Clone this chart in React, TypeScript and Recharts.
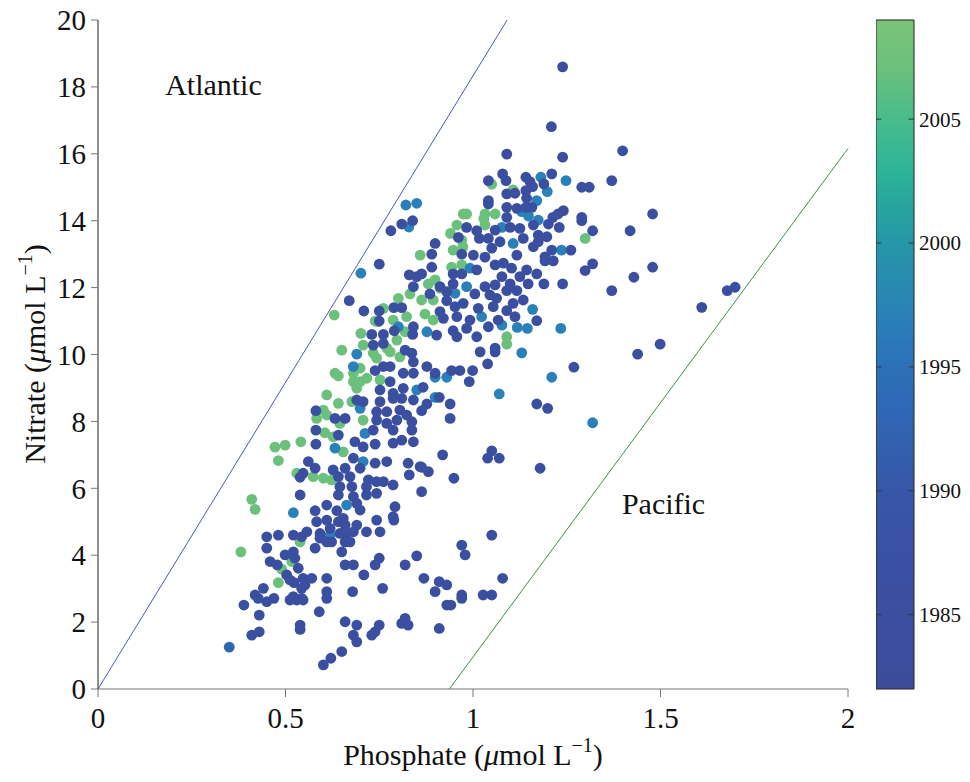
import { ScatterChart, ComposedChart, Scatter, XAxis, YAxis, ReferenceLine, ReferenceDot, ReferenceArea, Label } from 'recharts';

const FONT = '"Liberation Serif", "Times New Roman", serif';

// phosphate / nitrate pairs, grouped by sampling period (colour = year)
const DARK_1986: [number, number][] = [
  [0.839, 14.0], [0.81, 13.9], [0.781, 13.7], [0.75, 12.7], [0.67, 11.61], [0.709, 11.3], [0.75, 11.3], [0.789, 11.4], [0.81, 11.4],
  [0.83, 12.38], [0.85, 12.33], [0.841, 12.03], [0.75, 11.0], [0.73, 10.6], [0.761, 10.6], [0.79, 10.71], [0.841, 10.83], [0.839, 10.6],
  [1.239, 18.6], [1.209, 16.81], [1.09, 15.99], [1.239, 15.9], [1.399, 16.09], [1.079, 15.4], [1.088, 15.2], [1.041, 15.2], [1.141, 15.3],
  [1.152, 15.17], [1.21, 15.4], [1.189, 15.1], [1.29, 15.0], [1.31, 15.0], [1.37, 15.2], [1.09, 14.8], [1.112, 14.82], [1.141, 14.9],
  [1.159, 15.02], [1.041, 14.6], [1.041, 14.5], [1.143, 14.67], [1.09, 14.4], [1.117, 14.37], [1.141, 14.4], [1.157, 14.4], [1.241, 14.3],
  [1.227, 14.2], [1.213, 14.1], [1.09, 14.1], [1.29, 14.1], [1.29, 14.0], [0.983, 13.8], [1.01, 13.7], [1.059, 13.72], [1.099, 13.8],
  [1.125, 13.77], [1.161, 13.87], [1.201, 13.9], [1.23, 13.8], [1.319, 13.7], [0.961, 13.5], [1.041, 13.47], [1.017, 13.47], [1.134, 13.47],
  [1.174, 13.57], [1.197, 13.52], [1.174, 13.37], [1.21, 13.12], [1.261, 13.12], [1.161, 13.22], [1.072, 13.37], [1.05, 13.18], [0.899, 13.32],
  [0.89, 13.0], [0.97, 13.0], [1.001, 12.97], [1.032, 12.91], [1.081, 12.73], [1.117, 12.97], [1.192, 12.92], [1.192, 12.8], [1.214, 12.8],
  [0.89, 12.61], [1.01, 12.53], [1.059, 12.68], [1.103, 12.58], [1.143, 12.53], [1.299, 12.51], [1.319, 12.71], [0.863, 12.41], [0.947, 12.41],
  [0.97, 12.41], [1.17, 12.41], [1.077, 12.33], [1.125, 12.33], [0.912, 12.03], [0.947, 12.11], [1.032, 12.03], [1.059, 12.08], [1.099, 12.11],
  [1.147, 12.11], [1.189, 12.11], [1.239, 12.11], [1.37, 11.91], [0.885, 11.81], [0.93, 11.88], [1.005, 11.81], [1.045, 11.78], [1.09, 11.91],
  [1.117, 11.91], [0.93, 11.61], [0.974, 11.53], [1.063, 11.68], [1.107, 11.53], [1.134, 11.63], [0.952, 11.43], [1.014, 11.38], [1.054, 11.43],
  [0.912, 11.28], [1.09, 11.31], [0.921, 11.08], [0.957, 11.13], [0.992, 11.03], [1.067, 11.03], [1.112, 11.13], [1.17, 11.01], [1.041, 10.83],
  [0.947, 10.71], [0.983, 10.78], [0.903, 10.58], [0.957, 10.53], [1.01, 10.53],
  [0.734, 10.28], [0.761, 10.33], [0.819, 10.13], [0.837, 10.04], [0.739, 9.52], [0.761, 9.64], [0.779, 9.64], [0.841, 9.78], [0.779, 9.19],
  [0.814, 9.44], [0.841, 9.44], [0.752, 8.94], [0.787, 8.84], [0.814, 8.99], [0.69, 8.64], [0.707, 8.59], [0.752, 8.59], [0.787, 8.69],
  [0.81, 8.69], [0.841, 8.64], [0.581, 8.32], [0.743, 8.29], [0.77, 8.29], [0.805, 8.34], [0.632, 8.09], [0.659, 8.09], [0.743, 8.04],
  [0.77, 7.94], [0.797, 8.04], [0.823, 8.19], [0.837, 7.99], [0.581, 7.74], [0.641, 7.59], [0.734, 7.74], [0.787, 7.74], [0.837, 7.74],
  [0.581, 7.32], [0.685, 7.39], [0.707, 7.24], [0.739, 7.32], [0.787, 7.35], [0.81, 7.44], [0.841, 7.39], [0.561, 6.8], [0.681, 6.9],
  [0.739, 6.75], [0.77, 6.8], [0.827, 6.75], [0.859, 6.65], [0.579, 6.6], [0.627, 6.55], [0.659, 6.6], [0.699, 6.6], [0.547, 6.45],
  [0.539, 6.33], [0.641, 6.35], [0.672, 6.35], [0.721, 6.25], [0.743, 6.2], [0.83, 6.4], [0.645, 6.05], [0.677, 6.05], [0.716, 6.05],
  [0.761, 6.2], [0.787, 6.1], [0.539, 5.8], [0.641, 5.8], [0.681, 5.75], [0.716, 5.8], [0.743, 5.85], [0.579, 5.33], [0.61, 5.5],
  [0.637, 5.33], [0.69, 5.55], [0.699, 5.35], [0.792, 5.45], [0.583, 5.0], [0.61, 5.05], [0.654, 5.1], [0.69, 4.9], [0.743, 5.05],
  [0.787, 5.15], [0.45, 4.55], [0.481, 4.6], [0.521, 4.6], [0.557, 4.7], [0.592, 4.65], [0.663, 4.65], [0.716, 4.7], [0.752, 4.7],
  [1.059, 10.19], [1.059, 10.08], [1.019, 10.08], [1.269, 9.62], [1.039, 9.72], [0.999, 9.52], [0.99, 9.19], [0.965, 9.52], [0.943, 9.52],
  [0.899, 9.44], [0.877, 9.64], [1.17, 8.52], [1.199, 8.39], [0.939, 8.52], [0.939, 8.09], [0.91, 8.72], [0.877, 8.52], [0.867, 9.02],
  [0.863, 8.32], [0.919, 7.0], [1.05, 7.12], [1.039, 6.9], [1.07, 6.9], [1.179, 6.6], [0.863, 6.63], [0.881, 6.5], [0.949, 6.3],
  [0.863, 5.9], [1.05, 4.6],
  [0.389, 2.51], [0.41, 1.61], [0.43, 1.71], [0.43, 2.21], [0.419, 2.81], [0.441, 3.01], [0.45, 2.61], [0.469, 2.71], [0.427, 2.71],
  [0.45, 4.21], [0.459, 3.81], [0.478, 3.71], [0.499, 4.01], [0.521, 4.1], [0.525, 3.91], [0.534, 3.61], [0.503, 3.41], [0.512, 3.26],
  [0.523, 3.18], [0.543, 4.55], [0.592, 4.51], [0.619, 4.8], [0.61, 4.4], [0.623, 4.4], [0.579, 4.21], [0.547, 3.31], [0.57, 3.31],
  [0.543, 3.01], [0.552, 3.11], [0.512, 2.66], [0.53, 2.66], [0.547, 2.66], [0.521, 2.76], [0.543, 2.71], [0.59, 2.31], [0.61, 3.31],
  [0.61, 2.91], [0.61, 2.71], [0.539, 1.91], [0.539, 1.78], [0.641, 5.0], [0.659, 4.9], [0.645, 4.65], [0.659, 4.4], [0.672, 4.4],
  [0.65, 4.1], [0.681, 4.7], [0.659, 3.71], [0.681, 3.71], [0.709, 3.41], [0.739, 3.71], [0.75, 3.91], [0.679, 2.91], [0.759, 3.01],
  [0.659, 2.01], [0.69, 1.91], [0.681, 1.61], [0.69, 1.41], [0.73, 1.61], [0.739, 1.71], [0.75, 1.91], [0.65, 1.12], [0.621, 0.92],
  [0.601, 0.72], [0.789, 5.05], [0.819, 3.71], [0.85, 3.98], [0.81, 1.96], [0.827, 1.91], [0.819, 2.11],
  [0.97, 4.3], [0.979, 4.01], [0.869, 3.31], [0.91, 3.21], [0.93, 3.11], [0.899, 2.91], [1.079, 3.31], [0.97, 2.81], [0.97, 2.71],
  [1.027, 2.81], [1.05, 2.81], [0.93, 2.51], [0.941, 2.51], [0.91, 1.81],
  [1.479, 14.2], [1.419, 13.7], [1.479, 12.61], [1.429, 12.31], [1.678, 11.91], [1.699, 12.01], [1.61, 11.41], [1.439, 10.01], [1.499, 10.31],
];

const MID_1993: [number, number][] = [[0.35, 1.25]];

const MID_1997: [number, number][] = [
  [0.821, 14.47], [0.85, 14.52], [0.829, 13.81], [0.701, 12.43], [0.801, 10.83],
  [1.181, 15.3], [1.198, 14.87], [1.248, 15.2], [1.17, 14.6], [1.13, 14.27], [1.148, 14.14], [1.174, 14.02], [1.077, 13.8], [1.107, 13.32],
  [1.236, 13.12], [0.992, 12.58], [0.983, 12.03], [0.952, 11.83], [1.159, 11.35], [1.023, 11.13], [1.077, 10.88], [1.118, 10.81], [1.145, 10.78],
  [1.234, 10.78], [0.877, 10.68],
  [0.69, 10.01], [0.681, 9.64], [0.85, 8.94], [0.699, 8.39], [0.712, 7.64], [0.632, 7.2], [0.707, 6.8], [0.521, 5.27], [0.663, 5.5], [0.619, 4.6],
  [1.13, 10.05], [1.21, 9.32], [0.93, 9.32], [0.899, 9.32], [1.07, 8.82], [1.319, 7.96], [0.899, 8.72],
];

const GREEN_2007: [number, number][] = [
  [0.63, 11.18], [0.761, 11.38], [0.801, 11.68], [0.832, 11.81], [0.739, 11.0], [0.787, 11.03], [0.823, 11.13], [0.701, 10.63], [0.859, 12.97],
  [1.05, 15.09], [1.107, 14.92], [1.059, 14.2], [1.032, 14.2], [1.029, 14.06], [0.974, 14.2], [0.983, 14.2], [0.957, 13.87], [1.299, 13.47],
  [0.94, 13.62], [0.947, 13.12], [0.973, 13.22], [0.943, 12.61], [0.97, 12.68], [0.881, 12.11], [0.863, 11.63], [0.894, 11.63], [0.872, 11.21],
  [0.894, 11.03], [0.97, 13.42], [0.899, 12.23], [0.912, 11.98], [1.09, 10.53], [1.032, 13.87],
  [0.65, 10.13], [0.707, 10.28], [0.779, 10.08], [0.632, 9.44], [0.641, 9.36], [0.681, 9.44], [0.699, 9.59], [0.743, 9.89], [0.805, 9.93],
  [0.681, 9.19], [0.699, 9.19], [0.752, 9.24], [0.69, 8.99], [0.61, 8.79], [0.641, 8.54], [0.677, 8.59], [0.601, 8.34], [0.61, 8.19],
  [0.583, 8.09], [0.645, 7.94], [0.707, 8.04], [0.605, 7.66], [0.627, 7.54], [0.541, 7.39], [0.654, 7.09], [0.472, 7.23], [0.499, 7.29],
  [0.481, 6.83], [0.53, 6.45], [0.574, 6.35], [0.601, 6.3], [0.623, 6.25], [0.41, 5.67], [0.419, 5.37],
  [0.734, 10.04], [0.77, 10.19], [0.797, 10.43], [0.819, 10.68], [0.747, 10.98], [0.717, 9.29],
  [1.09, 10.31], [0.381, 4.1], [0.481, 3.18], [0.49, 3.58], [0.517, 3.81], [0.539, 4.4],
];

const xTicks = [0, 0.5, 1, 1.5, 2];
const yTicks = [0, 2, 4, 6, 8, 10, 12, 14, 16, 18, 20];
const yearTicks = [1985, 1990, 1995, 2000, 2005];
const yearDomain: [number, number] = [1982, 2009];

// boundary lines
const atlanticLine = [{ x: 0, y: 0 }, { x: 1.091, y: 20 }];
const pacificLine = [{ x: 0.937, y: 0 }, { x: 2, y: 16.16 }];

const annotations = [
  { text: 'Atlantic', p: 0.179, n: 18.06 },
  { text: 'Pacific', p: 1.397, n: 5.56 },
];

const colorStops: [number, string][] = [
  [1982, '#3e4b9c'], [1986, '#3b4fa1'], [1990, '#3756a7'], [1993, '#3066b4'], [1995, '#2c70b8'], [1997, '#2a80b9'],
  [2000, '#2596a7'], [2002, '#28aa9c'], [2003, '#2eb596'], [2005, '#48bc8d'], [2007, '#6bc07b'], [2009, '#7ac47a'],
];

function yearColor(year: number) {
  const hit = colorStops.find(s => s[0] === year);
  return hit ? hit[1] : colorStops[0][1];
}

const groups = [
  { year: 2007, pts: GREEN_2007 },
  { year: 1997, pts: MID_1997 },
  { year: 1993, pts: MID_1993 },
  { year: 1986, pts: DARK_1986 },
];

const tickStyle = { fill: '#111', fontSize: 29, fontFamily: FONT };

function XLabel(props: any) {
  const vb = props.viewBox;
  const cx = vb.x + vb.width / 2;
  const y = vb.y + 76;
  return (
    <text x={cx} y={y} textAnchor="middle" fontFamily={FONT} fontSize={30} fill="#111">
      Phosphate (<tspan fontStyle="italic">μ</tspan>mol L<tspan dy={-13} fontSize={20}>−1</tspan><tspan dy={13}>)</tspan>
    </text>
  );
}

function YLabel() {
  const cy = 354;
  const x = 45;
  return (
    <text x={x} y={cy} textAnchor="middle" transform={`rotate(-90, ${x}, ${cy})`} fontFamily={FONT} fontSize={30} fill="#111">
      Nitrate (<tspan fontStyle="italic">μ</tspan>mol L<tspan dy={-13} fontSize={20}>−1</tspan><tspan dy={13}>)</tspan>
    </text>
  );
}

// one invisible anchor per tick so the colour-bar chart has a series to lay out
const colorbarAnchors = yearTicks.map(y => ({ x: 0.5, y }));

export default function App() {
  return (
    <div style={{ position: 'absolute', left: 0, top: 0, width: 970, height: 782, background: '#fff' }}>
      <svg width={0} height={0} style={{ position: 'absolute' }}>
        <defs>
          <linearGradient id="cbGrad" x1="0" y1="1" x2="0" y2="0">
            {colorStops.map(([yr, c]) => (
              <stop key={yr} offset={(yr - yearDomain[0]) / (yearDomain[1] - yearDomain[0])} stopColor={c} />
            ))}
          </linearGradient>
        </defs>
      </svg>

      <div style={{ position: 'absolute', left: 0, top: 0 }}>
        <ScatterChart width={970} height={782} margin={{ top: 20, right: 122, bottom: 33, left: 38 }}>
          <XAxis
            type="number"
            dataKey="p"
            domain={[0, 2]}
            ticks={xTicks}
            tickFormatter={(v: number) => String(v)}
            height={60}
            tickSize={8}
            tickMargin={10}
            axisLine={{ stroke: '#777' }}
            tickLine={{ stroke: '#777' }}
            tick={tickStyle}
          >
            <Label content={XLabel} />
          </XAxis>
          <YAxis
            type="number"
            dataKey="n"
            domain={[0, 20]}
            ticks={yTicks}
            width={60}
            tickSize={7}
            tickMargin={5}
            axisLine={{ stroke: '#222' }}
            tickLine={{ stroke: '#777' }}
            tick={tickStyle}
          >
            <Label content={YLabel} />
          </YAxis>
          <ReferenceLine segment={atlanticLine} stroke="#4a5bb0" strokeWidth={1} />
          <ReferenceLine segment={pacificLine} stroke="#3a9148" strokeWidth={1} />
          {groups.map(g => {
            const color = yearColor(g.year);
            return (
              <Scatter
                key={g.year}
                name={String(g.year)}
                data={g.pts.map(([p, n]) => ({ p, n }))}
                fill={color}
                isAnimationActive={false}
                shape={(s: any) => <circle cx={s.cx} cy={s.cy} r={5.4} fill={color} />}
              />
            );
          })}
          {annotations.map(a => (
            <ReferenceDot
              key={a.text}
              x={a.p}
              y={a.n}
              r={0}
              shape={(s: any) => (
                <text x={s.cx} y={s.cy} dy="0.35em" fontFamily={FONT} fontSize={30} fill="#111">
                  {a.text}
                </text>
              )}
            />
          ))}
        </ScatterChart>
      </div>

      <div style={{ position: 'absolute', left: 876, top: 0 }}>
        <ComposedChart width={94} height={782} margin={{ top: 20, right: 0, bottom: 93, left: 0 }} data={colorbarAnchors}>
          <XAxis type="number" dataKey="x" domain={[0, 1]} hide />
          <YAxis
            type="number"
            dataKey="y"
            orientation="right"
            domain={yearDomain}
            ticks={yearTicks}
            width={56}
            axisLine={false}
            tickLine={false}
            tickSize={0}
            tickMargin={5}
            tick={{ fill: '#111', fontSize: 21, fontFamily: FONT }}
          />
          <Scatter dataKey="y" isAnimationActive={false} shape={() => <g />} />
          <ReferenceArea x1={0} x2={1} y1={yearDomain[0]} y2={yearDomain[1]} fill="url(#cbGrad)" fillOpacity={1} stroke="#222" strokeWidth={1} />
          {yearTicks.map(y => (
            <ReferenceLine key={'l' + y} segment={[{ x: 0, y }, { x: 0.14, y }]} stroke="#333" />
          ))}
          {yearTicks.map(y => (
            <ReferenceLine key={'r' + y} segment={[{ x: 0.86, y }, { x: 1, y }]} stroke="#333" />
          ))}
        </ComposedChart>
      </div>
    </div>
  );
}
